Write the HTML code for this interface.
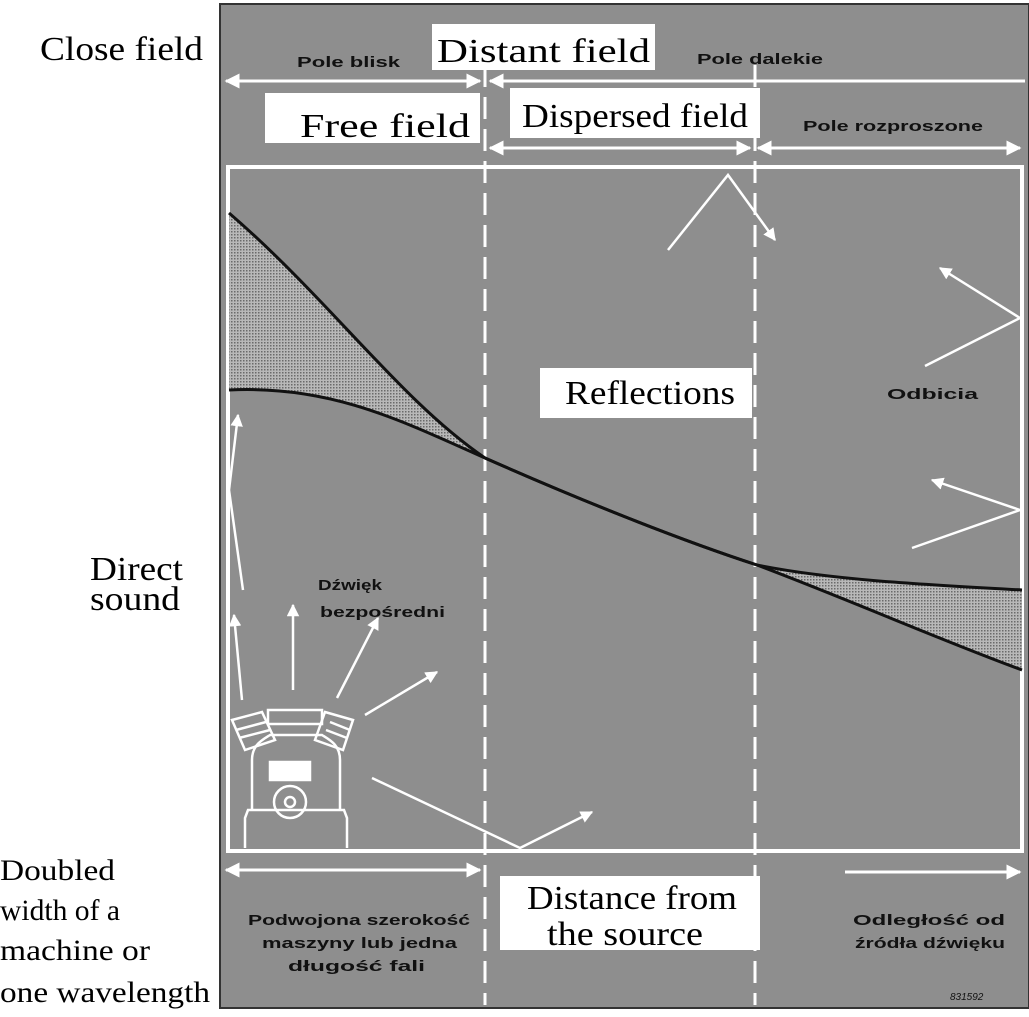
<!DOCTYPE html>
<html><head><meta charset="utf-8"><style>
html,body{margin:0;padding:0;background:#fff;width:1029px;height:1017px;overflow:hidden}
</style></head><body>
<svg width="1029" height="1017" viewBox="0 0 1029 1017" xmlns="http://www.w3.org/2000/svg" font-family="Liberation Serif, serif">
<defs>
<marker id="a" viewBox="0 0 10 10" refX="9" refY="5" markerWidth="5" markerHeight="5" orient="auto-start-reverse"><path d="M0,0 L10,5 L0,10 z" fill="#fff"/></marker>
<pattern id="dots" width="3" height="3" patternUnits="userSpaceOnUse"><rect width="3" height="3" fill="#b8b8b8"/><rect width="1.5" height="1.5" fill="#6a6a6a"/></pattern>
</defs>
<rect x="220" y="4" width="809" height="1004" fill="#8e8e8e" stroke="#333" stroke-width="2"/>
<g stroke="#fff" stroke-width="3" fill="none">
<line x1="226" y1="81" x2="480" y2="81" marker-start="url(#a)" marker-end="url(#a)"/>
<line x1="490" y1="81" x2="1025" y2="81" marker-start="url(#a)"/>
<line x1="490" y1="148" x2="750" y2="148" marker-start="url(#a)" marker-end="url(#a)"/>
<line x1="758" y1="148" x2="1020" y2="148" marker-start="url(#a)" marker-end="url(#a)"/>
<rect x="228" y="167" width="794" height="684" stroke-width="4"/>
<line x1="226" y1="870" x2="480" y2="870" marker-start="url(#a)" marker-end="url(#a)"/>
<line x1="845" y1="872" x2="1020" y2="872" marker-end="url(#a)"/>
<line x1="485" y1="65" x2="485" y2="1005" stroke-dasharray="22,10"/>
<line x1="755" y1="65" x2="755" y2="1005" stroke-dasharray="22,10"/>
</g>
<path d="M229,213 C330,300 400,400 485,458 C400,420 330,385 229,390 Z" fill="url(#dots)"/>
<path d="M757,565 C850,600 940,640 1022,670 L1022,590 C930,585 830,580 757,565 Z" fill="url(#dots)"/>
<g stroke="#111" stroke-width="3" fill="none">
<path d="M229,213 C330,300 400,400 485,458 C580,500 680,540 757,565 C850,600 940,640 1022,670"/>
<path d="M229,390 C330,385 400,420 485,458 C580,500 680,540 757,565 C830,580 930,585 1022,590"/>
</g>
<g stroke="#fff" stroke-width="2.5" fill="none">
<polyline points="668,250 728,175 775,240" marker-end="url(#a)"/>
<line x1="1020" y1="318" x2="940" y2="268" marker-end="url(#a)"/>
<line x1="1020" y1="318" x2="925" y2="366"/>
<line x1="1020" y1="510" x2="932" y2="480" marker-end="url(#a)"/>
<line x1="1020" y1="510" x2="912" y2="548"/>
<line x1="229" y1="490" x2="243" y2="590"/>
<line x1="229" y1="490" x2="238" y2="415" marker-end="url(#a)"/>
<line x1="242" y1="700" x2="234" y2="615" marker-end="url(#a)"/>
<line x1="293" y1="690" x2="293" y2="605" marker-end="url(#a)"/>
<line x1="337" y1="698" x2="378" y2="618" marker-end="url(#a)"/>
<line x1="365" y1="715" x2="437" y2="672" marker-end="url(#a)"/>
<polyline points="372,778 520,848 592,812" marker-end="url(#a)"/>
</g>
<g stroke="#fff" stroke-width="2.5" fill="none">
<path d="M245,848 L245,818 L248,810 L344,810 L347,818 L347,848"/>
<path d="M252,810 L252,760 C252,745 262,740 270,735 L322,735 C330,740 340,745 340,760 L340,810"/>
<rect x="270" y="762" width="40" height="18" fill="#fff"/>
<circle cx="290" cy="802" r="16"/><circle cx="290" cy="802" r="5"/>
<path d="M232,720 L262,712 L275,740 L245,750 Z"/><path d="M325,712 L353,720 L343,750 L315,740 Z"/>
<rect x="268" y="710" width="54" height="14"/>
<path d="M236,730 L266,722 M239,738 L270,730 M330,722 L350,730 M326,730 L347,738"/>
</g>
<g font-family="Liberation Sans, sans-serif" font-weight="bold" font-size="15" fill="#111" lengthAdjust="spacingAndGlyphs">
<text x="297" y="67" textLength="103" lengthAdjust="spacingAndGlyphs">Pole blisk</text>
<text x="697" y="64" textLength="126" lengthAdjust="spacingAndGlyphs">Pole dalekie</text>
<text x="803" y="131" textLength="180" lengthAdjust="spacingAndGlyphs">Pole rozproszone</text>
<text x="887" y="399" textLength="91" lengthAdjust="spacingAndGlyphs">Odbicia</text>
<text x="318" y="590" textLength="64" lengthAdjust="spacingAndGlyphs">Dźwięk</text>
<text x="320" y="617" textLength="125" lengthAdjust="spacingAndGlyphs">bezpośredni</text>
<text x="248" y="925" textLength="222" lengthAdjust="spacingAndGlyphs">Podwojona szerokość</text>
<text x="262" y="948" textLength="195" lengthAdjust="spacingAndGlyphs">maszyny lub jedna</text>
<text x="288" y="971" textLength="137" lengthAdjust="spacingAndGlyphs">długość fali</text>
<text x="853" y="925" textLength="152" lengthAdjust="spacingAndGlyphs">Odległość od</text>
<text x="855" y="948" textLength="150" lengthAdjust="spacingAndGlyphs">źródła dźwięku</text>
<text x="950" y="1000" font-size="10" font-weight="normal" font-style="italic">831592</text>
</g>
<g fill="#fff">
<rect x="432" y="24" width="223" height="46"/>
<rect x="265" y="93" width="215" height="50"/>
<rect x="510" y="88" width="250" height="50"/>
<rect x="540" y="368" width="212" height="50"/>
<rect x="500" y="876" width="260" height="74"/>
</g>
<g font-size="34" fill="#000">
<text x="437" y="62" textLength="213" lengthAdjust="spacingAndGlyphs">Distant field</text>
<text x="300" y="137" textLength="170" lengthAdjust="spacingAndGlyphs">Free field</text>
<text x="522" y="127" textLength="226" lengthAdjust="spacingAndGlyphs">Dispersed field</text>
<text x="565" y="404" textLength="170" lengthAdjust="spacingAndGlyphs">Reflections</text>
<text x="527" y="909" textLength="210" lengthAdjust="spacingAndGlyphs">Distance from</text>
<text x="547" y="945" textLength="156" lengthAdjust="spacingAndGlyphs">the source</text>
<text x="40" y="60" textLength="163" lengthAdjust="spacingAndGlyphs">Close field</text>
<text x="90" y="580" textLength="93" lengthAdjust="spacingAndGlyphs">Direct</text>
<text x="90" y="610" textLength="90" lengthAdjust="spacingAndGlyphs">sound</text>
</g>
<g font-size="30" fill="#000">
<text x="0" y="880" textLength="115" lengthAdjust="spacingAndGlyphs">Doubled</text>
<text x="0" y="920" textLength="120" lengthAdjust="spacingAndGlyphs">width of a</text>
<text x="0" y="960" textLength="150" lengthAdjust="spacingAndGlyphs">machine or</text>
<text x="0" y="1002" textLength="210" lengthAdjust="spacingAndGlyphs">one wavelength</text>
</g>
</svg>
</body></html>
